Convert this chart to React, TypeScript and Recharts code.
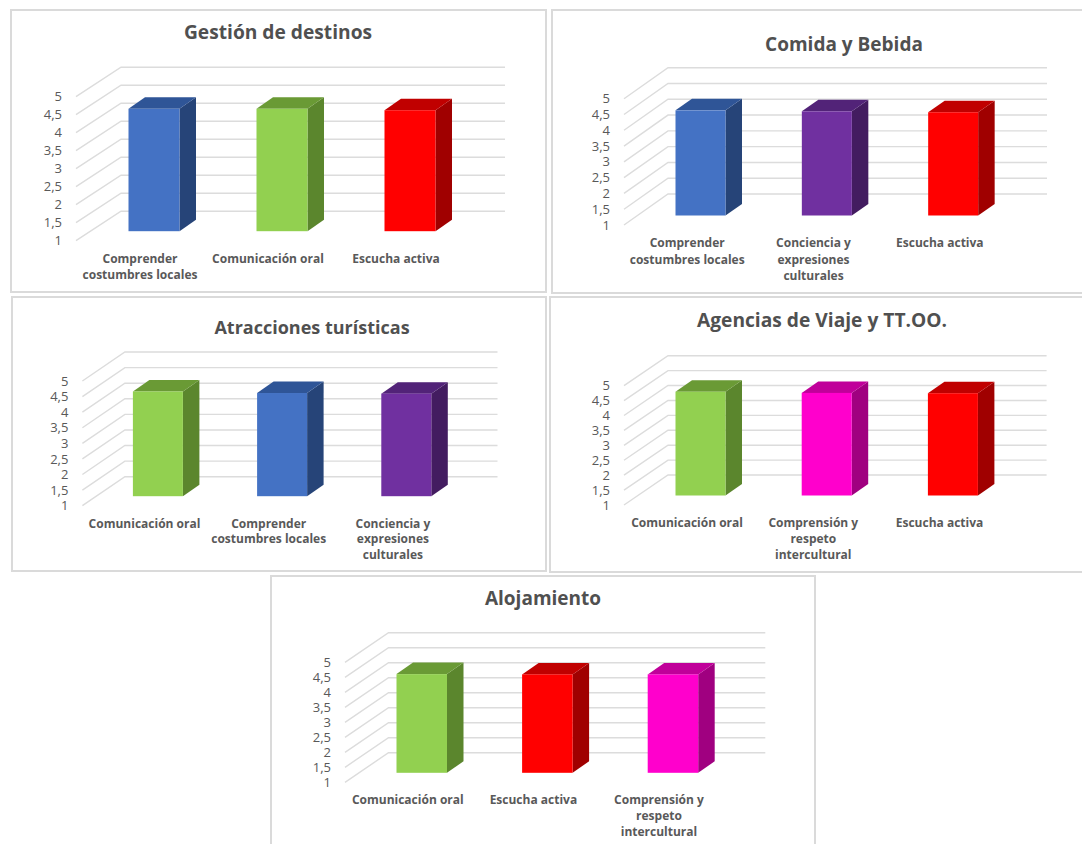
import React from "react";
import { BarChart, Bar, XAxis, YAxis, CartesianGrid } from "recharts";

// Y axis scale shared by every panel
const VALUE_TICKS = [1, 1.5, 2, 2.5, 3, 3.5, 4, 4.5, 5];

// Skill names, wrapped the way the axis shows them
const COSTUMBRES = "Comprender\ncostumbres locales";
const ORAL = "Comunicación oral";
const ESCUCHA = "Escucha activa";
const CONCIENCIA = "Conciencia y\nexpresiones\nculturales";
const RESPETO = "Comprensión y\nrespeto\nintercultural";

// Categories and means for each tourism sector
const gestionSkills = [COSTUMBRES, ORAL, ESCUCHA];
const gestionValues = [4.4, 4.4, 4.36];
const comidaSkills = [COSTUMBRES, CONCIENCIA, ESCUCHA];
const comidaValues = [4.33, 4.3, 4.27];
const atraccionesSkills = [ORAL, COSTUMBRES, CONCIENCIA];
const atraccionesValues = [4.36, 4.31, 4.29];
const agenciasSkills = [ORAL, RESPETO, ESCUCHA];
const agenciasValues = [4.48, 4.44, 4.43];
const alojamientoSkills = [ORAL, ESCUCHA, RESPETO];
const alojamientoValues = [4.29, 4.28, 4.28];

type Shades = { front: string; side: string; top: string };

const BLUE: Shades = { front: "#4472C4", side: "#264478", top: "#2F5597" };
const GREEN: Shades = { front: "#92D050", side: "#5B862D", top: "#6A9A35" };
const RED: Shades = { front: "#FF0000", side: "#A00000", top: "#C00000" };
const PURPLE: Shades = { front: "#7030A0", side: "#431C60", top: "#522378" };
const MAGENTA: Shades = { front: "#FF00CC", side: "#A00080", top: "#C0009A" };

const SKILL_SHADES: Record<string, Shades> = {
  [COSTUMBRES]: BLUE,
  [ORAL]: GREEN,
  [ESCUCHA]: RED,
  [CONCIENCIA]: PURPLE,
  [RESPETO]: MAGENTA,
};

const GRID_COLOR = "#DCDCDC";
const TEXT_COLOR = "#595959";
const FONT = '"Open Sans", sans-serif';

// The bars stand partway into the floor, and extrude further back from there
const BAR_SHIFT_X = 13.5;
const BAR_SHIFT_Y = 9.5;
const BAR_DEPTH_X = 16.5;
const BAR_DEPTH_Y = 11.5;

function BoxBar(props: any) {
  const { x, y, width, height, payload } = props;
  const shades = SKILL_SHADES[payload.skill];
  const l = x + BAR_SHIFT_X;
  const t = y - BAR_SHIFT_Y;
  const r = l + width;
  const b = t + height;
  const dx = BAR_DEPTH_X;
  const dy = BAR_DEPTH_Y;
  return (
    <g>
      <polygon
        points={`${r},${t} ${r + dx},${t - dy} ${r + dx},${b - dy} ${r},${b}`}
        fill={shades.side}
      />
      <polygon
        points={`${l},${t} ${l + dx},${t - dy} ${r + dx},${t - dy} ${r},${t}`}
        fill={shades.top}
      />
      <rect x={l} y={t} width={width} height={height} fill={shades.front} />
    </g>
  );
}

function SkillTick(props: any) {
  const { x, y, payload, lineGap, firstLine } = props;
  const lines = String(payload.value).split("\n");
  return (
    <text
      textAnchor="middle"
      fill={TEXT_COLOR}
      fontFamily={FONT}
      fontSize={12}
      fontWeight={700}
    >
      {lines.map((line, i) => (
        <tspan key={line} x={x} y={y + firstLine + i * lineGap}>
          {line}
        </tspan>
      ))}
    </text>
  );
}

type PanelProps = {
  title: string;
  skills: string[];
  values: number[];
  frame: [number, number, number, number];
  plot: [number, number, number, number];
  wall: [number, number];
  titleAt: [number, number];
  titleSize: number;
  barSize: number;
  lineGap: number;
};

const Y_AXIS_WIDTH = 30;
const X_AXIS_HEIGHT = 30;

function Panel(p: PanelProps) {
  const [fx, fy, fw, fh] = p.frame;
  const [left, top, right, bottom] = p.plot;
  const [wallDx, wallDy] = p.wall;
  const rows = p.skills.map((skill, i) => ({ skill, value: p.values[i] }));

  const wallLine = (g: any) => {
    const { x1, y1, x2 } = g;
    return (
      <polyline
        key={`wall-${y1}`}
        points={`${x1},${y1} ${x1 + wallDx},${y1 - wallDy} ${x2 + wallDx},${y1 - wallDy}`}
        fill="none"
        stroke={GRID_COLOR}
        strokeWidth={1.4}
      />
    );
  };

  return (
    <div
      style={{
        position: "absolute",
        left: fx,
        top: fy,
        width: fw,
        height: fh,
        boxSizing: "border-box",
        border: "2px solid #DADADA",
        background: "#FFFFFF",
      }}
    >
      <div
        style={{
          position: "absolute",
          left: p.titleAt[0] - fx - 2 - 200,
          top: p.titleAt[1] - fy - 2 - 15,
          width: 400,
          height: 30,
          lineHeight: "30px",
          textAlign: "center",
          fontFamily: FONT,
          fontWeight: 700,
          fontSize: p.titleSize,
          color: "#505050",
        }}
      >
        {p.title}
      </div>
      <div style={{ position: "absolute", left: -2, top: -2 }}>
        <BarChart
          width={fw}
          height={fh}
          data={rows}
          margin={{
            left: left - fx - Y_AXIS_WIDTH,
            top: top - fy,
            right: fx + fw - right,
            bottom: fy + fh - bottom - X_AXIS_HEIGHT,
          }}
          style={{ overflow: "visible" }}
        >
          <CartesianGrid
            vertical={false}
            horizontal={wallLine}
            horizontalValues={VALUE_TICKS}
            syncWithTicks
          />
          <XAxis
            dataKey="skill"
            height={X_AXIS_HEIGHT}
            axisLine={false}
            tickLine={false}
            interval={0}
            tick={<SkillTick lineGap={p.lineGap} firstLine={14} />}
          />
          <YAxis
            type="number"
            domain={[1, 5]}
            ticks={VALUE_TICKS}
            interval={0}
            width={Y_AXIS_WIDTH}
            axisLine={false}
            tickLine={false}
            tickSize={0}
            tickMargin={14}
            tickFormatter={(v: number) => String(v).replace(".", ",")}
            tick={{ fill: TEXT_COLOR, fontFamily: FONT, fontSize: 13 }}
          />
          <Bar dataKey="value" barSize={p.barSize} shape={<BoxBar />} isAnimationActive={false} />
        </BarChart>
      </div>
    </div>
  );
}

export default function App() {
  return (
    <div
      style={{
        position: "absolute",
        left: 0,
        top: 0,
        width: 1082,
        height: 844,
        overflow: "hidden",
        background: "#FFFFFF",
      }}
    >
      <Panel
        title="Gestión de destinos"
        skills={gestionSkills}
        values={gestionValues}
        frame={[10, 9, 537, 284]}
        plot={[76, 96.7, 460, 240.7]}
        wall={[45, 29.5]}
        titleAt={[278, 32]}
        titleSize={19.2}
        barSize={51}
        lineGap={16}
      />
      <Panel
        title="Comida y Bebida"
        skills={comidaSkills}
        values={comidaValues}
        frame={[551, 9, 560, 285]}
        plot={[624, 98.7, 1003, 225]}
        wall={[44, 31]}
        titleAt={[844, 44]}
        titleSize={19}
        barSize={50}
        lineGap={16.5}
      />
      <Panel
        title="Atracciones turísticas"
        skills={atraccionesSkills}
        values={atraccionesValues}
        frame={[11, 296, 536, 276]}
        plot={[82.4, 381, 455, 505.7]}
        wall={[42.5, 29]}
        titleAt={[312, 327]}
        titleSize={18}
        barSize={50}
        lineGap={15.7}
      />
      <Panel
        title="Agencias de Viaje y TT.OO."
        skills={agenciasSkills}
        values={agenciasValues}
        frame={[549, 296, 560, 277]}
        plot={[624, 385.7, 1002.6, 505]}
        wall={[44, 30]}
        titleAt={[822, 320]}
        titleSize={19.2}
        barSize={50}
        lineGap={16}
      />
      <Panel
        title="Alojamiento"
        skills={alojamientoSkills}
        values={alojamientoValues}
        frame={[270, 575, 546, 300]}
        plot={[345, 662.3, 721.8, 782.3]}
        wall={[43.5, 29.6]}
        titleAt={[543, 598]}
        titleSize={19}
        barSize={50.5}
        lineGap={16}
      />
    </div>
  );
}
